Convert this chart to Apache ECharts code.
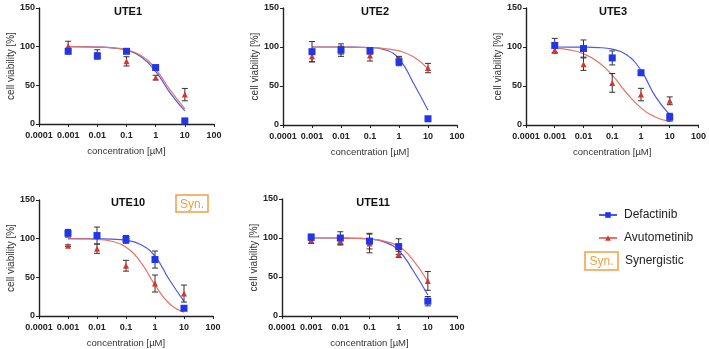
<!DOCTYPE html>
<html>
<head>
<meta charset="utf-8">
<script src="https://cdn.jsdelivr.net/npm/echarts@6/dist/echarts.min.js"></script>
<style>
  html, body { margin: 0; padding: 0; background: #fff; }
  #chart { width: 709px; height: 349px; }
</style>
</head>
<body>
<div id="chart"></div>
<script>
// concentrations [uM]
var conc = [0.001, 0.01, 0.1, 1, 10];
var fitConc = [0.001, 0.00316, 0.01, 0.0316, 0.1, 0.316, 1, 3.16, 10];
var xTickLabels = ["0.0001", "0.001", "0.01", "0.1", "1", "10", "100"];
var panels = ["UTE1", "UTE2", "UTE3", "UTE10", "UTE11"];

// Defactinib means / errors per panel
var defMean = [
  [94, 88, 94, 73, 4],
  [94, 96, 95, 81, 8],
  [102, 98, 86, 67, 10],
  [107, 104, 99, 73, 10],
  [101, 100, 96, 89, 19]
];
var defErr = [
  [3, 4, 2, 2, 1],
  [13, 5, 4, 5, 2],
  [9, 11, 9, 2, 5],
  [5, 11, 5, 11, 1],
  [4, 8, 10, 10, 6]
];
// Avutometinib means / errors per panel
var avuMean = [
  [101, 91, 81, 60, 38],
  [88, 96, 89, 84, 73],
  [96, 78, 54, 39, 31],
  [91, 87, 65, 42, 29],
  [97, 96, 93, 79, 45]
];
var avuErr = [
  [6, 5, 6, 3, 8],
  [7, 8, 7, 4, 6],
  [4, 8, 12, 8, 5],
  [1, 6, 7, 11, 11],
  [4, 5, 12, 4, 12]
];
// fitted curves (at fitConc)
var defFit = [
  [100, 99.8, 99.5, 98.5, 95.5, 87, 68, 40, 17],
  [100, 100, 100, 99.8, 99.3, 96.5, 84.9, 53.5, 19],
  [100, 99.9, 99.8, 99.3, 97.3, 90, 70, 36.7, 13],
  [100, 100, 99.8, 99.4, 97.9, 92.4, 77, 46.5, 19],
  [100, 100, 99.9, 99.6, 98.7, 95, 84, 58, 27]
];
var avuFit = [
  [100, 99.9, 99.6, 98.7, 96, 88.5, 71, 43.7, 19.7],
  [100, 100, 99.9, 99.7, 99.3, 98, 95, 87.4, 72],
  [98.5, 96.4, 91.4, 81, 64, 41, 22, 10.2, 4.3],
  [99.9, 99.7, 99, 96.7, 89, 70, 40, 15.8, 5],
  [100, 100, 99.9, 99.6, 98.7, 96, 89, 71.4, 44]
];

var FONT = "Liberation Sans, Arial, sans-serif";
var BLUE = "#2236e8", BLUE_LINE = "#4a5ae6";
var RED = "#d9362b", RED_LINE = "#ea7266";
var ORANGE = "#f0a045";

var gridBoxes = [
  { left: 39, top: 8, width: 175, height: 116, tx: 123, ty: 1 },
  { left: 283, top: 8, width: 174, height: 117, tx: 370, ty: 1 },
  { left: 526, top: 8, width: 174, height: 117, tx: 608, ty: 1 },
  { left: 39, top: 200, width: 174, height: 117, tx: 123, ty: 192 },
  { left: 282, top: 199, width: 175, height: 118, tx: 368, ty: 192 }
];

function zip(xs, ys, es) {
  return xs.map(function (x, i) {
    return es ? [x, ys[i], es[i]] : [x, ys[i]];
  });
}

function errorBars(params, api) {
  var x = api.value(0), y = api.value(1), e = api.value(2);
  var top = api.coord([x, y + e]);
  var bot = api.coord([x, y - e]);
  var w = 3;
  var st = { stroke: "#333", lineWidth: 1 };
  return {
    type: "group",
    children: [
      { type: "line", shape: { x1: top[0], y1: top[1], x2: bot[0], y2: bot[1] }, style: st },
      { type: "line", shape: { x1: top[0] - w, y1: top[1], x2: top[0] + w, y2: top[1] }, style: st },
      { type: "line", shape: { x1: bot[0] - w, y1: bot[1], x2: bot[0] + w, y2: bot[1] }, style: st }
    ]
  };
}

function synBox(x, y, w, h) {
  return {
    type: "group", x: x, y: y,
    children: [
      { type: "rect", shape: { x: 0, y: 0, width: w, height: h },
        style: { fill: "#fff", stroke: ORANGE, lineWidth: 1.5 } },
      { type: "text", x: w / 2, y: h / 2 + 1,
        style: { text: "Syn.", fill: ORANGE, font: "12px " + FONT,
                 align: "center", verticalAlign: "middle" } }
    ]
  };
}

var grids = [], xAxes = [], yAxes = [], titles = [], series = [];

panels.forEach(function (name, i) {
  var g = gridBoxes[i];
  grids.push({ left: g.left, top: g.top, width: g.width, height: g.height, containLabel: false });
  titles.push({
    text: name, left: g.tx, top: g.ty, textAlign: "center",
    textStyle: { fontFamily: FONT, fontSize: 11, fontWeight: "bold", color: "#111" }
  });
  xAxes.push({
    type: "log", logBase: 10, gridIndex: i, min: 0.0001, max: 100,
    name: "concentration [\u00b5M]", nameLocation: "middle", nameGap: 22,
    nameTextStyle: { fontFamily: FONT, fontSize: 9.5, color: "#333" },
    axisLine: { lineStyle: { color: "#222", width: 1.4 } },
    axisTick: { show: true, length: 3, lineStyle: { color: "#222" } },
    axisLabel: {
      fontFamily: FONT, fontSize: 9, fontWeight: "bold", color: "#222", margin: 7,
      formatter: function (v) { return xTickLabels[Math.round(Math.log10(v)) + 4]; }
    },
    splitLine: { show: false }
  });
  yAxes.push({
    type: "value", gridIndex: i, min: 0, max: 150, interval: 50,
    name: "cell viability [%]", nameLocation: "middle", nameGap: 22,
    nameTextStyle: { fontFamily: FONT, fontSize: 10, color: "#333" },
    axisLine: { show: true, lineStyle: { color: "#222", width: 1.4 } },
    axisTick: { show: true, length: 3, lineStyle: { color: "#222" } },
    axisLabel: { fontFamily: FONT, fontSize: 9, fontWeight: "bold", color: "#222", margin: 4 },
    splitLine: { show: false }
  });

  series.push({
    name: "Defactinib", type: "line", xAxisIndex: i, yAxisIndex: i,
    data: zip(fitConc, defFit[i]), smooth: true, symbol: "rect", symbolSize: 6,
    showSymbol: false, itemStyle: { color: BLUE },
    lineStyle: { color: BLUE_LINE, width: 1.2 }, z: 2, silent: true
  });
  series.push({
    name: "Avutometinib", type: "line", xAxisIndex: i, yAxisIndex: i,
    data: zip(fitConc, avuFit[i]), smooth: true, symbol: "triangle", symbolSize: 6,
    showSymbol: false, itemStyle: { color: RED },
    lineStyle: { color: RED_LINE, width: 1.2 }, z: 2, silent: true
  });
  series.push({
    name: "Avutometinib", type: "custom", xAxisIndex: i, yAxisIndex: i,
    renderItem: errorBars, data: zip(conc, avuMean[i], avuErr[i]), z: 3, silent: true
  });
  series.push({
    name: "Defactinib", type: "custom", xAxisIndex: i, yAxisIndex: i,
    renderItem: errorBars, data: zip(conc, defMean[i], defErr[i]), z: 3, silent: true
  });
  series.push({
    name: "Avutometinib", type: "scatter", xAxisIndex: i, yAxisIndex: i,
    data: zip(conc, avuMean[i]), symbol: "triangle", symbolSize: 6,
    itemStyle: { color: RED, opacity: 1 }, z: 4
  });
  series.push({
    name: "Defactinib", type: "scatter", xAxisIndex: i, yAxisIndex: i,
    data: zip(conc, defMean[i]), symbol: "rect", symbolSize: 7,
    itemStyle: { color: BLUE, opacity: 1 }, z: 5
  });
});

var chart = echarts.init(document.getElementById("chart"), null, { renderer: "canvas" });
chart.setOption({
  animation: false,
  backgroundColor: "#fff",
  title: titles,
  grid: grids,
  xAxis: xAxes,
  yAxis: yAxes,
  legend: {
    orient: "vertical", left: 598, top: 209, itemGap: 11, padding: 0,
    itemWidth: 18, itemHeight: 7,
    data: ["Defactinib", "Avutometinib"],
    textStyle: { fontFamily: FONT, fontSize: 12, color: "#222", padding: [0, 0, 0, 2] }
  },
  graphic: [
    synBox(176, 195, 32, 17),
    synBox(585, 252, 33, 18),
    { type: "text", x: 625, y: 261,
      style: { text: "Synergistic", fill: "#222", font: "12px " + FONT, verticalAlign: "middle" } }
  ],
  series: series
});
</script>
</body>
</html>
